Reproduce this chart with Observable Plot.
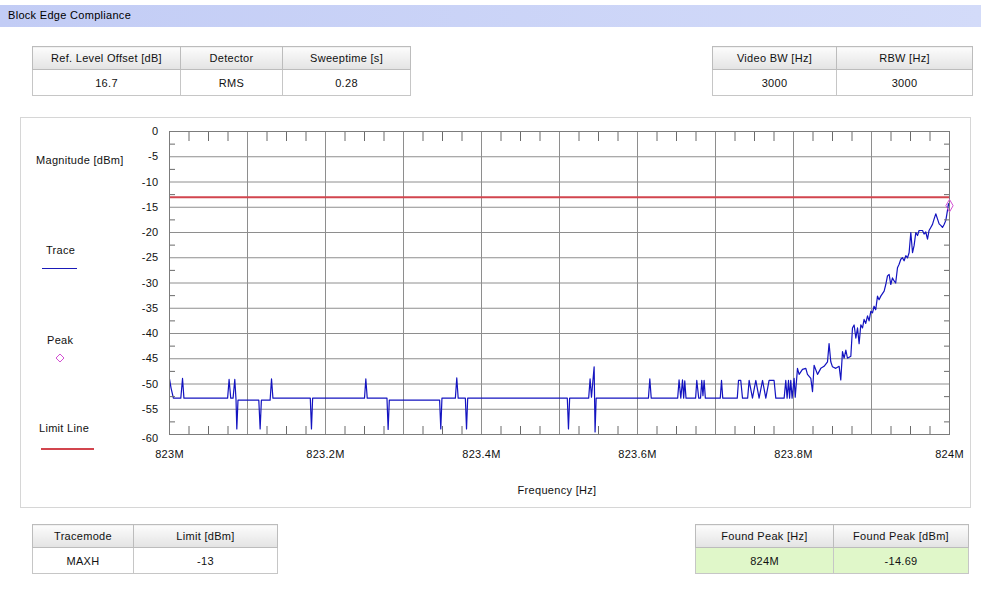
<!DOCTYPE html>
<html><head><meta charset="utf-8">
<script src="https://cdn.jsdelivr.net/npm/d3@7"></script>
<script src="https://cdn.jsdelivr.net/npm/@observablehq/plot@0.6"></script>
<style>
body{margin:0;background:#fff;font-family:"Liberation Sans",Arial,sans-serif;font-size:11px;color:#111;}
#page{position:relative;width:981px;height:605px;overflow:hidden;background:#fff;letter-spacing:0.3px;}
.hdr{position:absolute;left:0;top:5px;width:981px;height:22px;background:linear-gradient(90deg,#c2ccf5,#d3dbf9);}
.hdr span{position:absolute;left:8px;top:4px;font-size:11px;color:#000;}
table.t{position:absolute;border-collapse:collapse;border:1px solid #a9a9a9;font-size:11px;table-layout:fixed;}
table.t th{font-weight:normal;background:linear-gradient(#fcfcfc,#e3e3e3);border:1px solid #bcbcbc;height:22px;padding:0;color:#111;}
table.t td{text-align:center;border:1px solid #c6c6c6;height:25px;padding:0;background:#fff;color:#111;}
table.t td.g{background:#e0f7c9;}
.panel{position:absolute;left:20px;top:117px;width:949px;height:389px;border:1px solid #d6d6d6;}
.lbl{position:absolute;font-size:11px;white-space:nowrap;color:#111;line-height:14px;}
#plot{position:absolute;left:20px;top:117px;}
</style>
</head><body>
<div id="page">
  <div class="hdr"><span id="title"></span></div>
  <div class="panel"></div>
  <div id="plot"></div>
</div>
<script>
// ---------- texts ----------
const titleText = "Block Edge Compliance";
const topLeftHeaders = ["Ref. Level Offset [dB]", "Detector", "Sweeptime [s]"];
const topLeftValues = ["16.7", "RMS", "0.28"];
const topRightHeaders = ["Video BW [Hz]", "RBW [Hz]"];
const topRightValues = ["3000", "3000"];
const bottomLeftHeaders = ["Tracemode", "Limit [dBm]"];
const bottomLeftValues = ["MAXH", "-13"];
const bottomRightHeaders = ["Found Peak [Hz]", "Found Peak [dBm]"];
const bottomRightValues = ["824M", "-14.69"];
const yAxisLabel = "Magnitude [dBm]";
const xAxisLabel = "Frequency [Hz]";
const legendLabels = ["Trace", "Peak", "Limit Line"];

// ---------- axes ----------
const xTicks = [823, 823.2, 823.4, 823.6, 823.8, 824];
const xTickLabels = ["823M", "823.2M", "823.4M", "823.6M", "823.8M", "824M"];
const xGrid = [823.1, 823.2, 823.3, 823.4, 823.5, 823.6, 823.7, 823.8, 823.9];
const yTicks = [0, -5, -10, -15, -20, -25, -30, -35, -40, -45, -50, -55, -60];

// ---------- data ----------
const limitDbm = -13;
const peakFreq = 824.0;
const peakDbm = -14.69;
const freqMHz = [
 823.000, 823.002, 823.005, 823.0145, 823.0167, 823.0185, 823.0745, 823.0764, 823.0785, 823.0815,
 823.0837, 823.0853, 823.0863, 823.0878, 823.1145, 823.1162, 823.1178, 823.129, 823.1308, 823.1326,
 823.1805, 823.182, 823.1835, 823.250, 823.2517, 823.2535, 823.2788, 823.2803, 823.2818, 823.3463,
 823.3478, 823.3493, 823.3665, 823.3683, 823.3701, 823.3793, 823.3808, 823.3823, 823.510, 823.5115,
 823.513, 823.5374, 823.5392, 823.541, 823.5428, 823.5444, 823.5456, 823.547, 823.614, 823.6158,
 823.6176, 823.6515, 823.6533, 823.6555, 823.6577, 823.6592, 823.6606, 823.6622, 823.6745, 823.676,
 823.6785, 823.6808, 823.6824, 823.6839, 823.6854, 823.687, 823.7061, 823.7077, 823.7093, 823.7279,
 823.7295, 823.7324, 823.7346, 823.7412, 823.7431, 823.7474, 823.7517, 823.7559, 823.7603, 823.7645,
 823.7687, 823.7751, 823.7773, 823.788, 823.7901, 823.7918, 823.7936, 823.795, 823.7965, 823.7982,
 823.8008, 823.8022, 823.8051, 823.8072, 823.8115, 823.8158, 823.8179, 823.8222, 823.8244, 823.8264,
 823.8308, 823.835, 823.8392, 823.8436, 823.8456, 823.8478, 823.85, 823.8542, 823.8585, 823.8606,
 823.8628, 823.8649, 823.8671, 823.8692, 823.8735, 823.8756, 823.8777, 823.8799, 823.8821, 823.8841,
 823.8863, 823.8885, 823.8905, 823.8926, 823.8949, 823.8969, 823.8991, 823.9013, 823.9033, 823.9054,
 823.9077, 823.9097, 823.9119, 823.9162, 823.9183, 823.9205, 823.9226, 823.9247, 823.9269, 823.929,
 823.931, 823.9333, 823.9354, 823.9376, 823.9397, 823.9418, 823.944, 823.9462, 823.9482, 823.9504,
 823.9526, 823.9546, 823.9568, 823.959, 823.961, 823.9654, 823.9674, 823.9696, 823.9718, 823.9738,
 823.976, 823.9782, 823.9803, 823.9824, 823.9846, 823.9867, 823.9888, 823.991, 823.9931, 823.9953,
 823.9974, 823.9987, 824.000
];
const levelDbm = [
 -49.0, -50.8, -52.8, -52.8, -48.9, -52.8, -52.8, -49.1, -52.8, -52.8,
 -49.1, -53.2, -58.9, -53.2, -53.2, -58.9, -53.2, -53.2, -49.0, -52.8,
 -52.8, -58.9, -52.8, -52.8, -49.0, -52.8, -52.8, -59.0, -53.2, -53.2,
 -58.9, -52.8, -52.8, -48.8, -52.8, -52.8, -58.9, -52.8, -52.8, -58.9,
 -52.8, -52.8, -49.0, -52.6, -49.4, -46.6, -59.5, -52.8, -52.8, -49.0,
 -52.8, -52.8, -49.2, -52.8, -49.2, -52.8, -49.4, -52.8, -52.8, -49.3,
 -52.8, -52.8, -49.3, -52.3, -49.3, -52.8, -52.8, -49.3, -52.8, -52.8,
 -49.3, -49.3, -52.8, -52.8, -49.3, -52.8, -49.3, -52.8, -49.3, -52.8,
 -49.3, -49.3, -52.8, -52.8, -49.3, -52.8, -49.3, -52.8, -49.3, -52.8,
 -48.9, -52.6, -46.9, -48.1, -47.1, -46.9, -48.1, -48.9, -51.5, -46.3,
 -48.1, -46.9, -46.5, -45.6, -42.0, -45.6, -46.6, -46.9, -46.5, -49.2,
 -43.6, -44.9, -43.3, -44.9, -44.5, -38.9, -38.3, -40.9, -38.9, -42.0,
 -38.3, -38.9, -37.2, -38.0, -36.5, -37.5, -35.6, -35.9, -34.6, -35.3,
 -32.6, -33.3, -32.6, -31.6, -30.3, -28.6, -28.3, -30.3, -29.0, -29.6,
 -30.0, -27.0, -26.3, -25.3, -25.0, -25.6, -24.6, -25.0, -24.0, -20.0,
 -24.0, -22.6, -20.0, -20.6, -19.6, -19.6, -20.3, -19.9, -21.3, -19.6,
 -19.0, -18.4, -17.3, -16.3, -17.3, -18.3, -18.6, -19.0, -18.4, -17.6,
 -15.6, -14.3, -14.69
];

// ---------- HTML parts ----------
const page = document.getElementById("page");
document.getElementById("title").textContent = titleText;

function makeTable(left, top, widths, headers, values, green) {
  const t = document.createElement("table");
  t.className = "t";
  t.style.left = left + "px";
  t.style.top = top + "px";
  t.style.width = widths.reduce((a, b) => a + b, 0) + "px";
  const cg = document.createElement("colgroup");
  widths.forEach(w => { const c = document.createElement("col"); c.style.width = w + "px"; cg.appendChild(c); });
  t.appendChild(cg);
  const r1 = t.insertRow();
  headers.forEach(h => { const th = document.createElement("th"); th.textContent = h; r1.appendChild(th); });
  const r2 = t.insertRow();
  values.forEach(v => { const td = r2.insertCell(); td.textContent = v; if (green) td.className = "g"; });
  page.appendChild(t);
}
makeTable(32, 46, [148, 102, 128], topLeftHeaders, topLeftValues, false);
makeTable(712, 46, [124, 136], topRightHeaders, topRightValues, false);
makeTable(32, 524, [101, 144], bottomLeftHeaders, bottomLeftValues, false);
makeTable(695, 524, [138, 135], bottomRightHeaders, bottomRightValues, true);

function label(text, left, top, extra) {
  const d = document.createElement("div");
  d.className = "lbl";
  d.textContent = text;
  d.style.left = left + "px";
  d.style.top = top + "px";
  if (extra) Object.assign(d.style, extra);
  page.appendChild(d);
  return d;
}
label(yAxisLabel, 36, 153);
label(xAxisLabel, 557, 483, {transform: "translateX(-50%)"});
label(legendLabels[0], 46, 243);
label(legendLabels[1], 47, 333);
label(legendLabels[2], 39, 421);
// legend swatches
const sw1 = document.createElement("div");
Object.assign(sw1.style, {position: "absolute", left: "42px", top: "268px", width: "35px", height: "0", borderTop: "1.5px solid #1a1ab8"});
page.appendChild(sw1);
const sw3 = document.createElement("div");
Object.assign(sw3.style, {position: "absolute", left: "41px", top: "448px", width: "53px", height: "0", borderTop: "2px solid #d2454e"});
page.appendChild(sw3);
const ns = "http://www.w3.org/2000/svg";
const dsv = document.createElementNS(ns, "svg");
dsv.setAttribute("width", "12"); dsv.setAttribute("height", "12");
Object.assign(dsv.style, {position: "absolute", left: "54px", top: "352px"});
const poly = document.createElementNS(ns, "polygon");
poly.setAttribute("points", "6,2 10,6 6,10 2,6");
poly.setAttribute("fill", "none"); poly.setAttribute("stroke", "#d34fd3"); poly.setAttribute("stroke-width", "1");
dsv.appendChild(poly);
page.appendChild(dsv);

// ---------- chart ----------
const xMinor = d3.range(0, 40).filter(i => i % 4 !== 0).map(i => 823 + i * 0.025);
const yMinor = d3.range(0, 12).map(i => -2.5 - 5 * i);
const fmtX = d => xTickLabels[xTicks.indexOf(d)];
const tickColor = "#6a6a6a";

const chart = Plot.plot({
  width: 950, height: 390,
  marginLeft: 149, marginRight: 21, marginTop: 14, marginBottom: 73,
  style: {background: "transparent", fontFamily: "'Liberation Sans', Arial, sans-serif", fontSize: "11px", color: "#111", overflow: "visible"},
  x: {domain: [823, 824]},
  y: {domain: [-60, 0]},
  marks: [
    Plot.gridX(xGrid, {stroke: "#8e8e8e", strokeOpacity: 1}),
    Plot.gridY(yTicks, {stroke: "#8e8e8e", strokeOpacity: 1}),
    Plot.ruleY([limitDbm], {stroke: "#d2454e", strokeWidth: 2}),
    Plot.line(levelDbm, {x: freqMHz, y: levelDbm, stroke: "#1414c0", strokeWidth: 1.2, curve: "linear"}),
    Plot.axisX(xMinor, {anchor: "bottom", tickSize: -8, tickFormat: () => "", stroke: tickColor, label: null}),
    Plot.axisX(xMinor, {anchor: "top", tickSize: -9, tickFormat: () => "", stroke: tickColor, label: null}),
    Plot.axisY(yMinor, {anchor: "left", tickSize: -6, tickFormat: () => "", stroke: tickColor, label: null}),
    Plot.axisY(yMinor, {anchor: "right", tickSize: -6, tickFormat: () => "", stroke: tickColor, label: null}),
    Plot.frame({stroke: "#7c7c7c"}),
    Plot.dot([peakDbm], {x: [peakFreq], y: [peakDbm], symbol: "diamond", r: 3.8, stroke: "#d34fd3", fill: "none", strokeWidth: 1}),
    Plot.axisY(yTicks.slice(0, -1), {anchor: "left", tickSize: 0, tickPadding: 11, tickFormat: d => String(d), label: null}),
    Plot.axisY([-60], {anchor: "left", tickSize: 0, tickPadding: 11, tickFormat: d => String(d), label: null, dy: 4}),
    Plot.axisX(xTicks, {anchor: "bottom", tickSize: 0, tickPadding: 16, tickFormat: fmtX, label: null})
  ]
});
document.getElementById("plot").appendChild(chart);
</script>
</body></html>
